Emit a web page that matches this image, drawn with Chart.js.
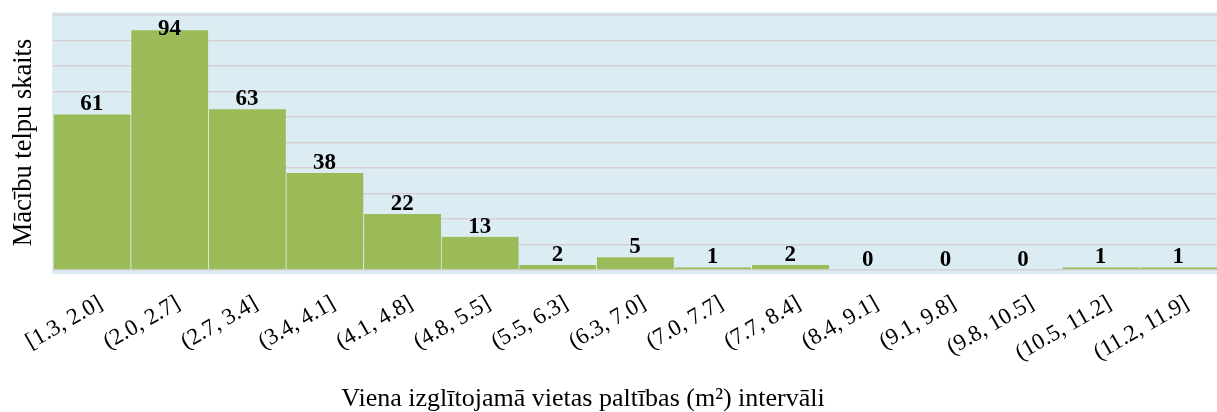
<!DOCTYPE html>
<html>
<head>
<meta charset="utf-8">
<script src="https://cdn.jsdelivr.net/npm/chart.js@4.4.1/dist/chart.umd.min.js"></script>
<style>
  html, body { margin: 0; padding: 0; background: #ffffff; }
  #wrap { width: 1217px; height: 412px; position: relative; }
</style>
</head>
<body>
<div id="wrap"><canvas id="chart"></canvas></div>
<script>
/* ── DATA ───────────────────────────────────────────────────────────── */
const intervals = [
  "[1.3, 2.0]", "(2.0, 2.7]", "(2.7, 3.4]", "(3.4, 4.1]", "(4.1, 4.8]",
  "(4.8, 5.5]", "(5.5, 6.3]", "(6.3, 7.0]", "(7.0, 7.7]", "(7.7, 8.4]",
  "(8.4, 9.1]", "(9.1, 9.8]", "(9.8, 10.5]", "(10.5, 11.2]", "(11.2, 11.9]",
];
const roomCounts = [61, 94, 63, 38, 22, 13, 2, 5, 1, 2, 0, 0, 0, 1, 1];
const yTitle = "Mācību telpu skaits";
const xTitle = "Viena izglītojamā vietas paltības (m²) intervāli";

/* ── STYLE ──────────────────────────────────────────────────────────── */
const SERIF = '"Liberation Serif", "Times New Roman", serif';
const COLORS = {
  bar: "#9bbb59",
  barEdge: "rgba(255,255,255,0.35)",
  plotBg: "#dbedf3",
  grid: "#d6cfd2",
  ink: "#000000",
};

/* plot background, drawn a touch larger than the chart area */
const plotBgPlugin = {
  id: "plotBg",
  beforeDraw(chart) {
    const { ctx, chartArea: { left, right, top, bottom } } = chart;
    ctx.save();
    ctx.fillStyle = COLORS.plotBg;
    ctx.fillRect(left - 1, top - 3, right - left + 1, bottom - top + 7);
    ctx.restore();
  },
};

/* value labels above each bar */
const valueLabelPlugin = {
  id: "valueLabels",
  afterDatasetsDraw(chart) {
    const { ctx, chartArea } = chart;
    const meta = chart.getDatasetMeta(0);
    ctx.save();
    ctx.font = `bold 23px ${SERIF}`;
    ctx.fillStyle = COLORS.ink;
    ctx.textAlign = "center";
    ctx.textBaseline = "alphabetic";
    meta.data.forEach((bar, i) => {
      const y = Math.max(bar.y - 4, chartArea.top + 20);
      ctx.fillText(String(roomCounts[i]), bar.x, y);
    });
    ctx.restore();
  },
};

/* x-axis title — sits left of the plot centre in the source, so drawn by hand */
const xTitlePlugin = {
  id: "xTitle",
  afterDraw(chart) {
    const { ctx, chartArea } = chart;
    ctx.save();
    ctx.font = `26px ${SERIF}`;
    ctx.fillStyle = COLORS.ink;
    ctx.textAlign = "center";
    ctx.textBaseline = "middle";
    ctx.fillText(xTitle, (chartArea.left + chartArea.right) / 2 - 52, chart.height - 13);
    ctx.restore();
  },
};

new Chart(document.getElementById("chart"), {
  type: "bar",
  data: {
    labels: intervals,
    datasets: [{
      data: roomCounts,
      backgroundColor: COLORS.bar,
      borderColor: COLORS.barEdge,
      borderWidth: { left: 1, right: 0, top: 0, bottom: 0 },
      borderSkipped: false,
      barPercentage: 1,
      categoryPercentage: 1,
    }],
  },
  options: {
    responsive: true,
    maintainAspectRatio: false,
    animation: false,
    layout: { padding: { top: 15, right: 0, left: 0, bottom: 0 } },
    plugins: { legend: { display: false }, tooltip: { enabled: false } },
    scales: {
      x: {
        grid: { display: false },
        border: { display: false },
        ticks: {
          color: COLORS.ink,
          font: { family: SERIF, size: 23 },
          minRotation: 30,
          maxRotation: 30,
          padding: 12,
          labelOffset: 9,
          autoSkip: false,
        },
        title: { display: false },
        afterFit(scale) { scale.height = 142; },
      },
      y: {
        min: 0,
        max: 100,
        ticks: { display: false, stepSize: 10 },
        grid: { color: COLORS.grid, lineWidth: 1.5, drawTicks: false },
        border: { display: false },
        title: {
          display: true,
          text: yTitle,
          color: COLORS.ink,
          font: { family: SERIF, size: 26.5 },
          padding: { top: 8, bottom: 0 },
        },
        afterFit(scale) { scale.width = 53; },
      },
    },
  },
  plugins: [plotBgPlugin, valueLabelPlugin, xTitlePlugin],
});
</script>
</body>
</html>
